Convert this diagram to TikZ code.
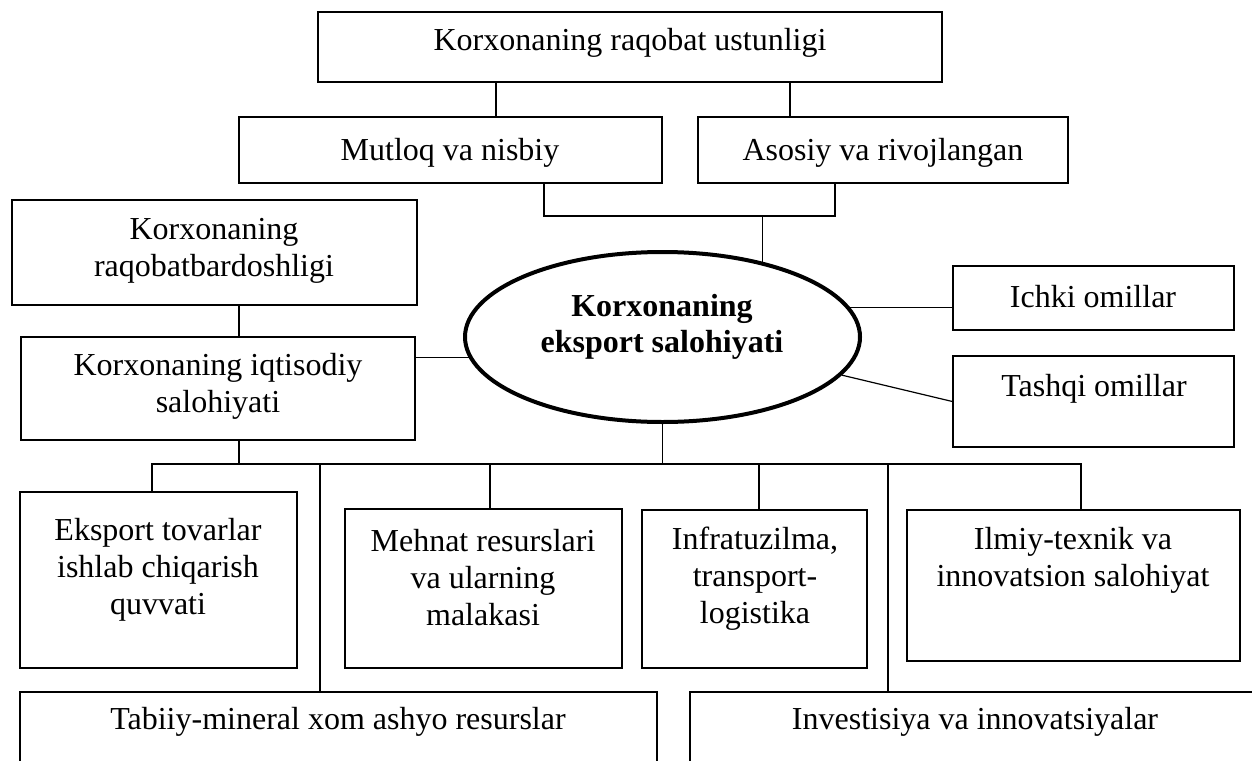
\documentclass[tikz,border=0pt]{standalone}
\usepackage{fontspec}
\setmainfont{Liberation Serif}
\usetikzlibrary{shapes.geometric}
\begin{document}
\begin{tikzpicture}[x=0.5pt,y=-0.5pt,
  boxst/.style={draw, line width=0.65pt, inner sep=0pt, rectangle},
  lbl/.style={font=\fontsize{16}{18.5}\selectfont, align=center, inner sep=0pt},
  conn/.style={line width=0.6pt},
  ellst/.style={draw, ellipse, line width=2pt, inner sep=0pt, minimum width=197.5pt, minimum height=85pt}]
\newcommand\mkbox[5]{\node[boxst, minimum width={0.5pt*(#4-#2)}, minimum height={0.5pt*(#5-#3)}] (#1) at ({(#2+#4)/2},{(#3+#5)/2}) {};}
\useasboundingbox (0,0) rectangle (1252,760);
\clip (0,0) rectangle (1252,760);
% boxes
\mkbox{top}{318}{12}{942}{82}
\mkbox{mut}{239}{117}{662}{183}
\mkbox{aso}{698}{117}{1068}{183}
\mkbox{raq}{12}{200}{417}{305}
\mkbox{iqt}{21}{337}{415}{440}
\mkbox{ich}{953}{266}{1234}{330}
\mkbox{tas}{953}{356}{1234}{447}
\mkbox{eks}{20}{492}{297}{668}
\mkbox{meh}{345}{509}{622}{668}
\mkbox{inf}{642}{510}{867}{668}
\mkbox{ilm}{907}{510}{1240}{661}
\mkbox{tab}{20}{692}{657}{820}
\mkbox{inv}{690}{692}{1290}{820}
\node[ellst] (ell) at (662.5,337) {};
% labels
\node[lbl] (ltop) at (630,43) {Korxonaning raqobat ustunligi};
\node[lbl] (lmut) at (450,153) {Mutloq va nisbiy};
\node[lbl] (laso) at (883,153) {Asosiy va rivojlangan};
\node[lbl] (lraq) at (214,251) {Korxonaning\\raqobatbardoshligi};
\node[lbl] (liqt) at (218,386) {Korxonaning iqtisodiy\\salohiyati};
\node[lbl, font=\fontsize{16}{18}\selectfont\bfseries] (lell) at (662,327) {Korxonaning\\eksport salohiyati};
\node[lbl] (lich) at (1093,297) {Ichki omillar};
\node[lbl] (ltas) at (1094,389) {Tashqi omillar};
\node[lbl] (leks) at (158,570) {Eksport tovarlar\\ishlab chiqarish\\quvvati};
\node[lbl] (lmeh) at (483,578) {Mehnat resurslari\\va ularning\\malakasi};
\node[lbl] (linf) at (755,579) {Infratuzilma,\\transport-\\logistika};
\node[lbl] (lilm) at (1073,560) {Ilmiy-texnik va\\innovatsion salohiyat};
\node[lbl] (ltab) at (338,722) {Tabiiy-mineral xom ashyo resurslar};
\node[lbl] (linv) at (975,722) {Investisiya va innovatsiyalar};
% coordinates
\coordinate (brkL) at (544,216);
\coordinate (brkR) at (835,216);
\coordinate (busL) at (152,464);
\coordinate (busR) at (1081,464);
% connectors top
\draw[conn] (top.south -| 496,0) -- (mut.north -| 496,0);
\draw[conn] (top.south -| 790,0) -- (aso.north -| 790,0);
\draw[conn] (mut.south -| brkL) -- (brkL) -- (brkR) -- (aso.south -| brkR);
\draw[conn] (ell.37.4 |- brkL) -- (ell.37.4);
% left
\draw[conn] (raq.south -| 239,0) -- (iqt.north -| 239,0);
\draw[conn] (ell.186.26 -| iqt.east) -- (ell.186.26);
% right
\draw[conn] (ell.9.92) -- (ell.9.92 -| ich.west);
\draw[conn] (ell.-12.14) -- (tas.west);
% bottom bus
\draw[conn] (ell.south) -- (ell.south |- busL);
\draw[conn] (iqt.south -| 239,0) -- (239,464);
\draw[conn] (eks.north -| busL) -- (busL) -- (busR) -- (ilm.north -| busR);
\draw[conn] (320,464) -- (tab.north -| 320,0);
\draw[conn] (490,464) -- (meh.north -| 490,0);
\draw[conn] (759,464) -- (inf.north -| 759,0);
\draw[conn] (888,464) -- (inv.north -| 888,0);
\end{tikzpicture}
\end{document}
